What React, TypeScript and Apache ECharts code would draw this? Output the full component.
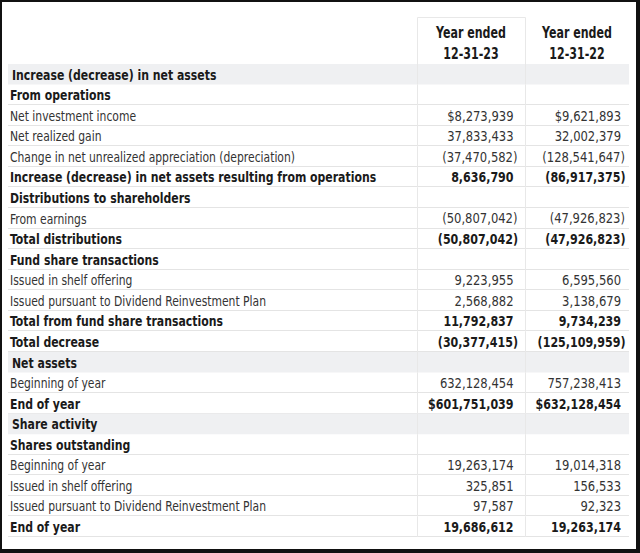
import React, { useEffect, useRef } from "react";
import * as echarts from "echarts";

const rowLabels: string[] = [
  "Increase (decrease) in net assets",
  "From operations",
  "Net investment income",
  "Net realized gain",
  "Change in net unrealized appreciation (depreciation)",
  "Increase (decrease) in net assets resulting from operations",
  "Distributions to shareholders",
  "From earnings",
  "Total distributions",
  "Fund share transactions",
  "Issued in shelf offering",
  "Issued pursuant to Dividend Reinvestment Plan",
  "Total from fund share transactions",
  "Total decrease",
  "Net assets",
  "Beginning of year",
  "End of year",
  "Share activity",
  "Shares outstanding",
  "Beginning of year",
  "Issued in shelf offering",
  "Issued pursuant to Dividend Reinvestment Plan",
  "End of year",
];

// g = gray section band, b = bold, r = regular
const rowKinds: string[] = [
  "g", "b", "r", "r", "r", "b", "b", "r", "b", "b", "r", "r", "b", "b",
  "g", "r", "b", "g", "b", "r", "r", "r", "b",
];

const values2023: (number | null)[] = [
  null, null, 8273939, 37833433, -37470582, 8636790, null, -50807042, -50807042,
  null, 9223955, 2568882, 11792837, -30377415, null, 632128454, 601751039,
  null, null, 19263174, 325851, 97587, 19686612,
];

const values2022: (number | null)[] = [
  null, null, 9621893, 32002379, -128541647, -86917375, null, -47926823, -47926823,
  null, 6595560, 3138679, 9734239, -125109959, null, 757238413, 632128454,
  null, null, 19014318, 156533, 92323, 19263174,
];

const dollarRows: number[] = [2, 16];

const columnHeaders: string[][] = [
  ["Year ended", "12-31-23"],
  ["Year ended", "12-31-22"],
];

const FONT = "'DejaVu Sans Condensed', 'DejaVu Sans', sans-serif";

function fmt(v: number | null, dollar: boolean): string {
  if (v === null) return "";
  const s = Math.abs(v).toLocaleString("en-US");
  const d = dollar ? "$" : "";
  return v < 0 ? `(${d}${s})` : `${d}${s}`;
}

export default function App() {
  const ref = useRef<HTMLDivElement>(null);

  useEffect(() => {
    if (!ref.current) return;
    const chart = echarts.init(ref.current, null, { renderer: "svg" });

    const GRID_LEFT = 8;
    const GRID_W = 621;
    const COL_LINE1 = 409;
    const COL_LINE2 = 517;
    const COL1_RIGHT = 505.5;
    const COL2_RIGHT = 613;

    const renderItem = (params: any, api: any) => {
      const idx = api.value(1);
      const c = api.coord([0, idx]);
      const h = api.size([0, 1])[1];
      const top = c[1] - h / 2;
      const bottom = c[1] + h / 2;
      const left = c[0];
      const kind = rowKinds[idx];
      const children: any[] = [];
      if (kind === "g") {
        children.push({
          type: "rect",
          shape: { x: left, y: top, width: GRID_W, height: h },
          style: { fill: "#eff0f2" },
        });
      } else {
        const yb = Math.round(bottom) - 0.5;
        children.push({
          type: "line",
          shape: { x1: left, y1: yb, x2: left + GRID_W, y2: yb },
          style: { stroke: "#e4e4e4", lineWidth: 1 },
        });
      }
      for (const cx of [COL_LINE1, COL_LINE2]) {
        const px = Math.round(left + cx) + 0.5;
        children.push({
          type: "line",
          shape: { x1: px, y1: top, x2: px, y2: bottom },
          style: { stroke: "#e8e8e8", lineWidth: 1 },
        });
      }
      const bold = kind !== "r";
      children.push({
        type: "text",
        x: left + (kind === "g" ? 4 : 2),
        y: c[1] + 0.5,
        scaleX: bold ? 0.836 : 0.857,
        style: {
          text: rowLabels[idx],
          fill: bold ? "#1a1a1a" : "#333333",
          fontFamily: FONT,
          fontSize: bold ? 14.5 : 14,
          fontWeight: bold ? "bold" : "normal",
          align: "left",
          verticalAlign: "middle",
        },
      });
      const vals = [values2023[idx], values2022[idx]];
      const rights = [COL1_RIGHT, COL2_RIGHT];
      vals.forEach((v, k) => {
        if (v === null) return;
        const txt = fmt(v, dollarRows.includes(idx));
        children.push({
          type: "text",
          x: left + rights[k] + (v < 0 ? (bold ? 4.5 : 4) : 0),
          y: c[1] + 0.5,
          scaleX: bold ? 0.85 : 0.92,
          style: {
            text: txt,
            fill: bold ? "#1a1a1a" : "#333333",
            fontFamily: FONT,
            fontSize: bold ? 14.5 : 14,
            fontWeight: bold ? "bold" : "normal",
            align: "right",
            verticalAlign: "middle",
          },
        });
      });
      return { type: "group", children };
    };

    const headerGraphics: any[] = [];
    const colCenters = [471, 577];
    columnHeaders.forEach((lines, k) => {
      lines.forEach((t, j) => {
        headerGraphics.push({
          type: "text",
          x: colCenters[k],
          y: 33 + j * 20.5,
          scaleX: 0.82,
          style: {
            text: t,
            fill: "#1a1a1a",
            fontFamily: FONT,
            fontSize: 15,
            fontWeight: "bold",
            align: "center",
            verticalAlign: "middle",
          },
        });
      });
    });
    // header box
    headerGraphics.push(
      { type: "line", shape: { x1: 417.5, y1: 17.5, x2: 525.5, y2: 17.5 }, style: { stroke: "#e8e8e8", lineWidth: 1 } },
      { type: "line", shape: { x1: 417.5, y1: 17.5, x2: 417.5, y2: 64.5 }, style: { stroke: "#e8e8e8", lineWidth: 1 } },
      { type: "line", shape: { x1: 525.5, y1: 17.5, x2: 525.5, y2: 64.5 }, style: { stroke: "#e8e8e8", lineWidth: 1 } }
    );
    // outer black frame
    headerGraphics.push(
      { type: "rect", shape: { x: 0, y: 0, width: 640, height: 2 }, style: { fill: "#111" } },
      { type: "rect", shape: { x: 0, y: 0, width: 2, height: 553 }, style: { fill: "#111" } },
      { type: "rect", shape: { x: 636, y: 0, width: 4, height: 553 }, style: { fill: "#111" } },
      { type: "rect", shape: { x: 0, y: 549, width: 640, height: 4 }, style: { fill: "#111" } }
    );

    chart.setOption({
      animation: false,
      backgroundColor: "#ffffff",
      grid: { left: GRID_LEFT, right: 640 - GRID_LEFT - GRID_W, top: 64, bottom: 16 },
      xAxis: { type: "value", min: 0, max: GRID_W, show: false },
      yAxis: {
        type: "category",
        inverse: true,
        show: false,
        data: rowLabels.map((_, i) => String(i)),
      },
      graphic: headerGraphics,
      series: [
        {
          type: "custom",
          renderItem,
          clip: false,
          silent: true,
          data: rowLabels.map((_, i) => [0, i]),
        },
      ],
    });

    return () => chart.dispose();
  }, []);

  return (
    <div
      ref={ref}
      style={{ position: "fixed", left: 0, top: 0, width: 640, height: 553, background: "#fff" }}
    />
  );
}
